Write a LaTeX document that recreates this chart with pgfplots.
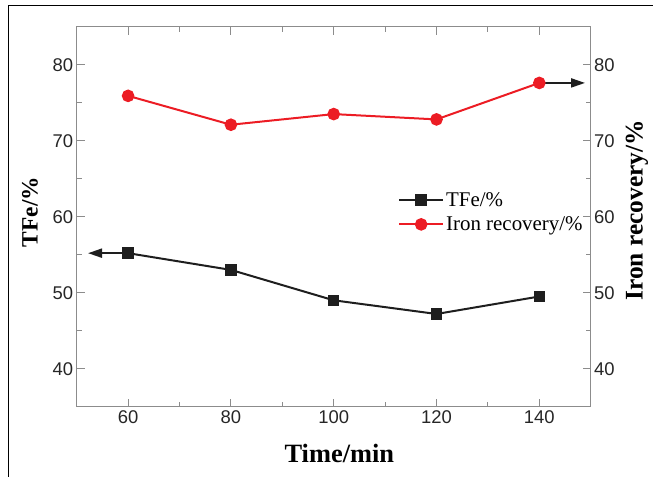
\documentclass[border=0pt]{standalone}
\usepackage{pgfplots}
\pgfplotsset{compat=1.18}
\usepackage{fontspec}
\setmainfont{Liberation Serif}
\setsansfont{Liberation Sans}
\usetikzlibrary{arrows.meta}
\definecolor{axgray}{RGB}{140,140,140}
\definecolor{myred}{RGB}{236,28,36}
\definecolor{myblack}{RGB}{30,30,30}
\pgfplotstableread{
x y
60 55.2
80 53.0
100 49.0
120 47.2
140 49.5
}\tfe
\pgfplotstableread{
x y
60 75.9
80 72.1
100 73.5
120 72.8
140 77.6
}\recov
\begin{document}
\begin{tikzpicture}[x=1bp,y=1bp]
\path[use as bounding box] (0,0) rectangle (653,477);
\draw[line width=1bp] (8.3,0) -- (8.3,471) -- (653,471);
\pgfplotsset{myaxis/.style={
 at={(76.7bp,70.3bp)}, anchor=south west, scale only axis, width=514bp, height=380bp,
 xmin=50,xmax=150,ymin=35,ymax=85,
 xtick={60,80,...,140}, ytick={40,50,...,80}, minor x tick num=1, minor y tick num=1,
 tick align=inside, major tick length=8bp, minor tick length=5bp,
 axis line style={axgray, line width=1bp}, every tick/.style={axgray, line width=1bp},
 ticklabel style={font=\sffamily\fontsize{18.5}{20}\selectfont, text=black!85},
 /pgf/number format/assume math mode=true,
}}
\begin{axis}[myaxis,
 yticklabel pos=left,
 xlabel={Time/min}, ylabel={TFe/\%},
 xlabel style={font=\bfseries\fontsize{26.5}{28}\selectfont, at={(axis description cs:0.511,-0.124)}, anchor=center},
 ylabel style={font=\bfseries\fontsize{23.5}{26}\selectfont, at={(axis description cs:-0.091,0.512)}, anchor=center},
 legend style={draw=none, fill=none, at={(0.625,0.57)}, anchor=north west, font=\fontsize{21}{24}\selectfont, row sep=5bp, inner sep=0pt},
 legend cell align=left,
 legend image code/.code={\draw[mark repeat=2,mark phase=2] plot coordinates {(0bp,0bp) (22bp,0bp) (44bp,0bp)};},
]
\draw[myblack, line width=2bp, -{Triangle[length=14bp,width=9bp]}] (axis cs:60,55.2) -- (axis cs:52.2,55.2);
\draw[myblack, line width=2bp, -{Triangle[length=14bp,width=9bp]}] (axis cs:140,77.6) -- (axis cs:148.9,77.6);
\addplot[myblack, line width=2bp, mark=square*, mark size=4.7bp, mark options={fill=myblack}] table[x=x,y=y] {\tfe};
\addlegendentry{TFe/\%}
\addplot[myred, line width=2bp, mark=*, mark size=5.3bp, mark options={fill=myred}] table[x=x,y=y] {\recov};
\addlegendentry{Iron recovery/\%}
\end{axis}
\begin{axis}[myaxis,
 hide x axis,
 yticklabel pos=right,
 ylabel={Iron recovery/\%},
 ylabel style={font=\bfseries\fontsize{25.5}{28}\selectfont, at={(axis description cs:1.090,0.517)}, anchor=center, rotate=0},
]
\end{axis}
\end{tikzpicture}
\end{document}
